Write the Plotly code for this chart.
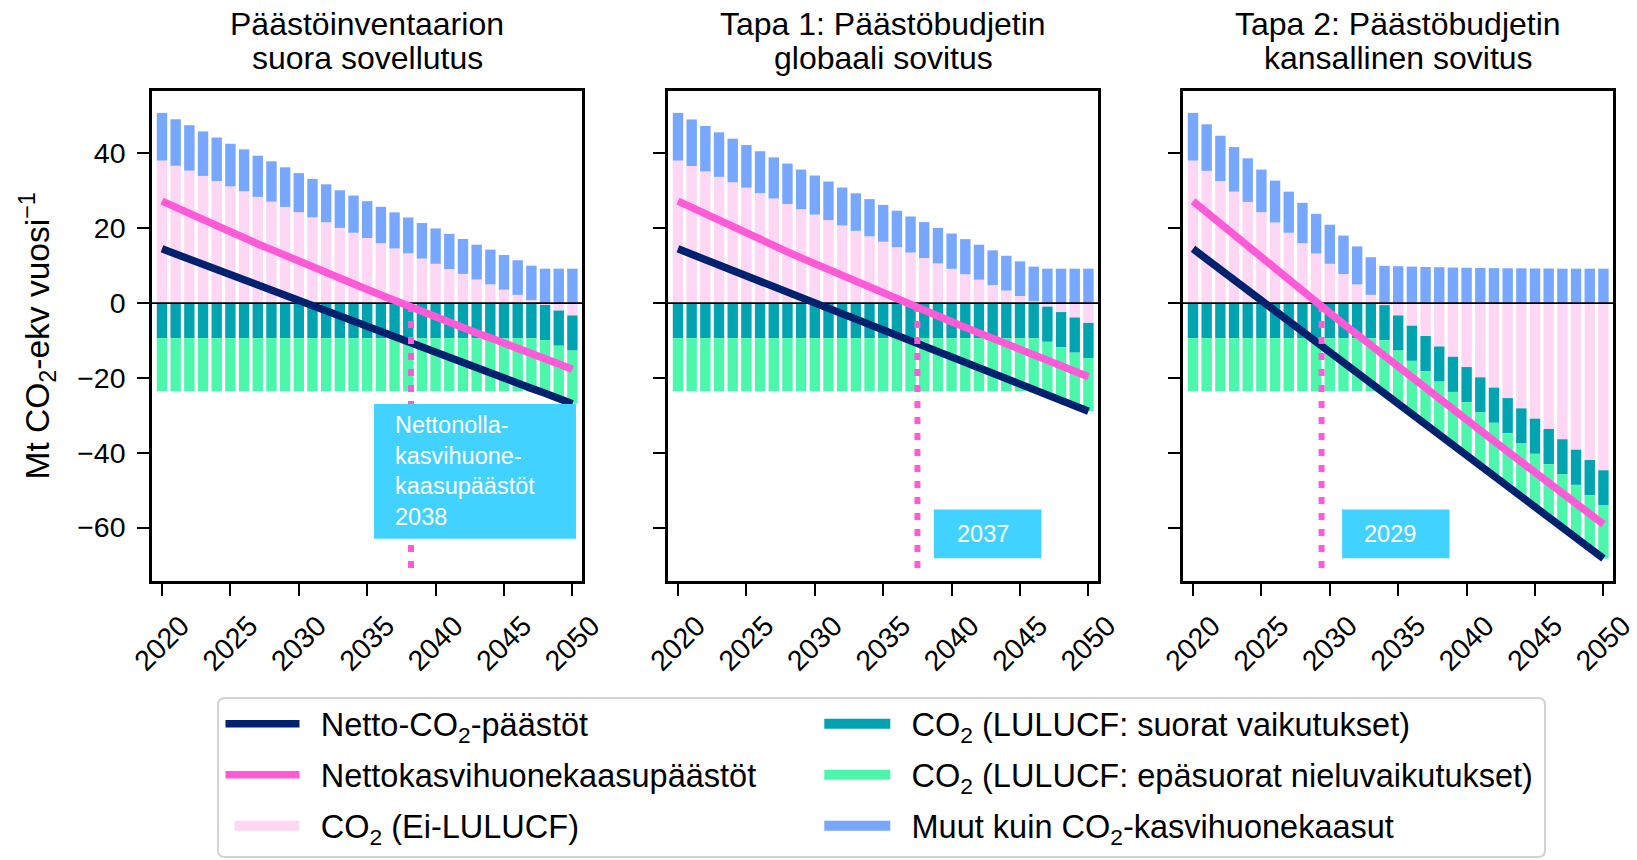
import plotly.graph_objects as go

# ---------------- data ----------------
years = list(range(2020, 2051))

panel_titles = [
    ["Päästöinventaarion", "suora sovellutus"],
    ["Tapa 1: Päästöbudjetin", "globaali sovitus"],
    ["Tapa 2: Päästöbudjetin", "kansallinen sovitus"],
]

# Muut kuin CO2-kasvihuonekaasut (same in all panels)
other_ghg = [12.75, 12.45, 12.15, 11.9, 11.65, 11.4, 11.2, 11.0, 10.8, 10.6,
             10.45, 10.3, 10.15, 10.05, 9.95, 9.85, 9.75, 9.65, 9.6, 9.5,
             9.45, 9.4, 9.35, 9.3, 9.3, 9.25, 9.25, 9.2, 9.2, 9.2, 9.2]

# CO2 (Ei-LULUCF) per panel
co2_inventory = [38.1, 36.7, 35.4, 34.0, 32.6, 31.2, 29.9, 28.4, 27.1, 25.7,
                 24.3, 22.9, 21.6, 20.1, 18.8, 17.4, 16.0, 14.6, 13.3, 11.9,
                 10.5, 9.1, 7.8, 6.3, 5.0, 3.6, 2.2, 0.8, -0.5, -2.0, -3.3]
co2_tapa1 = [38.1, 36.65, 35.2, 33.75, 32.3, 30.85, 29.4, 27.95, 26.5, 25.1,
             23.65, 22.2, 20.75, 19.3, 17.85, 16.4, 14.95, 13.5, 12.05, 10.6,
             9.15, 7.7, 6.25, 4.8, 3.35, 1.9, 0.5, -0.95, -2.4, -3.85, -5.3]
co2_tapa2 = [38.1, 35.35, 32.6, 29.8, 27.05, 24.3, 21.55, 18.8, 16.0, 13.25,
             10.5, 7.75, 5.0, 2.2, -0.55, -3.3, -6.05, -8.8, -11.6, -14.35,
             -17.1, -19.85, -22.6, -25.4, -28.15, -30.9, -33.65, -36.4, -39.2, -41.95, -44.7]

# LULUCF sinks (same in all panels)
lulucf_direct = [-9.4] * 31
lulucf_indirect = [-14.2] * 31

co2_by_panel = [co2_inventory, co2_tapa1, co2_tapa2]

net_zero_year = [2038.2, 2037.5, 2029.4]
net_zero_labels = ["Nettonolla-<br>kasvihuone-<br>kaasupäästöt<br>2038", "2037", "2029"]

x_ticks = [2020, 2025, 2030, 2035, 2040, 2045, 2050]
y_ticks = [-60, -40, -20, 0, 20, 40]

names = {
    "net_co2": "Netto-CO<sub>2</sub>-päästöt",
    "net_ghg": "Nettokasvihuonekaasupäästöt",
    "co2": "CO<sub>2</sub> (Ei-LULUCF)",
    "direct": "CO<sub>2</sub> (LULUCF: suorat vaikutukset)",
    "indirect": "CO<sub>2</sub> (LULUCF: epäsuorat nieluvaikutukset)",
    "other": "Muut kuin CO<sub>2</sub>-kasvihuonekaasut",
}

# ---------------- style ----------------
C_NAVY = "#00216f"
C_MAGENTA = "#ff5bd8"
C_LPINK = "#fdd7f3"
C_TEAL = "#00a4b0"
C_GREEN = "#4cf7ab"
C_BLUE = "#78a7ff"
C_BOX = "#42d2ff"
FONT = "Liberation Sans, Arial, Helvetica, sans-serif"

W, H = 1637, 860
L, R, T, B = 152, 24, 91, 279
PW = W - L - R
PH = H - T - B
panel_px = [(152, 582), (668, 1098), (1183, 1613)]
domains = [[(a - L) / PW, (b - L) / PW] for a, b in panel_px]
x_range = [2019.27, 2050.7]
y_range = [-74.3, 56.7]

bar_colors = {"co2": C_LPINK, "direct": C_TEAL, "indirect": C_GREEN, "other": C_BLUE}

# legend placement -> (row, column, swatch width)
legend_ids = {
    "net_co2": "legend", "direct": "legend2",
    "net_ghg": "legend3", "indirect": "legend4",
    "co2": "legend5", "other": "legend6",
}
legend_pos = {
    "legend": (0, 0, 74), "legend2": (0, 1, 66),
    "legend3": (1, 0, 74), "legend4": (1, 1, 66),
    "legend5": (2, 0, 65), "legend6": (2, 1, 66),
}
GAP = "\u2002"  # small gap between swatch and label

fig = go.Figure()

for i in range(3):
    s = "" if i == 0 else str(i + 1)
    xa, ya = "x" + s, "y" + s
    co2 = co2_by_panel[i]
    net_co2 = [c + d + e for c, d, e in zip(co2, lulucf_direct, lulucf_indirect)]
    net_ghg = [n + o for n, o in zip(net_co2, other_ghg)]
    show = i == 0

    for key, vals in [("co2", co2), ("direct", lulucf_direct),
                      ("indirect", lulucf_indirect), ("other", other_ghg)]:
        fig.add_trace(go.Bar(x=years, y=vals, name=names[key],
                             marker=dict(color=bar_colors[key], line=dict(width=0)),
                             xaxis=xa, yaxis=ya, showlegend=False, legendgroup=key,
                             hoverinfo="skip"))
    # zero line
    fig.add_trace(go.Scatter(x=x_range, y=[0, 0], mode="lines", line=dict(color="black", width=1.6),
                             xaxis=xa, yaxis=ya, showlegend=False, hoverinfo="skip"))
    fig.add_trace(go.Scatter(x=years, y=net_co2, mode="lines", name=GAP + names["net_co2"],
                             line=dict(color=C_NAVY, width=7.5), xaxis=xa, yaxis=ya,
                             showlegend=show, legend=legend_ids["net_co2"], hoverinfo="skip"))
    fig.add_trace(go.Scatter(x=years, y=net_ghg, mode="lines", name=GAP + names["net_ghg"],
                             line=dict(color=C_MAGENTA, width=7.5), xaxis=xa, yaxis=ya,
                             showlegend=show, legend=legend_ids["net_ghg"], hoverinfo="skip"))

# legend entries for the bar series (rectangular swatches)
for key in ["co2", "direct", "indirect", "other"]:
    fig.add_trace(go.Scatter(x=[None], y=[None], mode="lines", name=GAP + names[key],
                             line=dict(color=bar_colors[key], width=22),
                             legend=legend_ids[key], legendgroup=key, showlegend=True,
                             hoverinfo="skip"))

# ---------------- layout ----------------
axis_common = dict(showline=True, mirror=True, linecolor="black", linewidth=2.5,
                   ticks="outside", ticklen=12, tickwidth=2.3, tickcolor="black",
                   showgrid=False, zeroline=False, automargin=False,
                   ticklabeloverflow="allow",
                   tickfont=dict(family=FONT, size=28.5, color="black"))

layout = dict(
    width=W, height=H, margin=dict(l=L, r=R, t=T, b=B, autoexpand=False),
    paper_bgcolor="white", plot_bgcolor="white",
    barmode="relative", bargap=0.24,
    font=dict(family=FONT, size=28, color="black"),
    shapes=[], annotations=[],
)

for i in range(3):
    s = "" if i == 0 else str(i + 1)
    layout["xaxis" + s] = dict(axis_common, domain=domains[i], range=x_range, anchor="y" + s,
                               tickmode="array", tickvals=x_ticks, tickangle=-45,
                               ticklabelshift=19, ticklabelstandoff=2)
    layout["yaxis" + s] = dict(axis_common, domain=[0, 1], range=y_range, anchor="x" + s,
                               tickmode="array", tickvals=y_ticks, showticklabels=(i == 0),
                               ticklabelstandoff=6)


def px_x(p):
    return (p - L) / PW


def px_y(p):
    return (H - B - p) / PH


# titles
for i in range(3):
    cx = px_x((panel_px[i][0] + panel_px[i][1]) / 2)
    for j, line in enumerate(panel_titles[i]):
        py = [24.0, 58.0][j]
        layout["annotations"].append(dict(
            text=line, xref="paper", yref="paper", x=cx, y=px_y(py),
            xanchor="center", yanchor="middle", showarrow=False,
            font=dict(family=FONT, size=32, color="black")))

# y axis title
layout["annotations"].append(dict(
    text="Mt CO<sub>2</sub>-ekv vuosi<sup>−1</sup>", xref="paper", yref="paper",
    x=px_x(36.5), y=px_y(336), textangle=-90,
    xanchor="center", yanchor="middle", showarrow=False,
    font=dict(family=FONT, size=33.5, color="black")))

# net-zero markers
box_geom = [  # x0, x1, y0, y1, text x, text y
    (2035.5, 2050.26, -63.0, -27.0, 2036.9, -44.9),
    (2038.7, 2046.56, -68.2, -55.2, 2040.24, -61.7),
    (2030.9, 2038.75, -68.2, -55.2, 2032.36, -61.7),
]
for i in range(3):
    s = "" if i == 0 else str(i + 1)
    layout["shapes"].append(dict(type="line", xref="x" + s, yref="y" + s,
                                 x0=net_zero_year[i], x1=net_zero_year[i], y0=-0.5, y1=-72,
                                 line=dict(color=C_MAGENTA, width=6, dash="7px,9px"), layer="above"))
    bx0, bx1, by0, by1, tx, ty = box_geom[i]
    layout["shapes"].append(dict(type="rect", xref="x" + s, yref="y" + s,
                                 x0=bx0, x1=bx1, y0=by0, y1=by1,
                                 fillcolor=C_BOX, line=dict(width=0), layer="above"))
    layout["annotations"].append(dict(
        text=net_zero_labels[i], xref="x" + s, yref="y" + s, x=tx, y=ty,
        xanchor="left", yanchor="middle", align="left", showarrow=False,
        font=dict(family=FONT, size=23.5, color="white")))

# legend frame (rounded rectangle)
fx0, fx1, fy0, fy1 = px_x(218), px_x(1545), px_y(857), px_y(698)
rx, ry = 7 / PW, 7 / PH
frame_path = (f"M{fx0 + rx},{fy1} L{fx1 - rx},{fy1} Q{fx1},{fy1} {fx1},{fy1 - ry} "
              f"L{fx1},{fy0 + ry} Q{fx1},{fy0} {fx1 - rx},{fy0} "
              f"L{fx0 + rx},{fy0} Q{fx0},{fy0} {fx0},{fy0 + ry} "
              f"L{fx0},{fy1 - ry} Q{fx0},{fy1} {fx0 + rx},{fy1} Z")
layout["shapes"].append(dict(type="path", xref="paper", yref="paper", path=frame_path,
                             line=dict(color="#d3d3d3", width=2), fillcolor="rgba(0,0,0,0)",
                             layer="above"))

row_py = [724, 775, 826]
col_text_px = [320.5, 911.3]
GAP_PX = 16
for lid, (r, c, iw) in legend_pos.items():
    layout[lid] = dict(
        x=px_x(col_text_px[c] - GAP_PX - (iw + 10)), y=px_y(row_py[r]),
        xanchor="left", yanchor="middle", orientation="h",
        bgcolor="rgba(0,0,0,0)", borderwidth=0, itemwidth=iw,
        font=dict(family=FONT, size=32.5, color="black"), traceorder="normal",
    )

fig.update_layout(layout)
fig.write_html("out.html", config={"displayModeBar": False},
               post_script="document.body.style.margin='0px';document.body.style.overflow='hidden';")
